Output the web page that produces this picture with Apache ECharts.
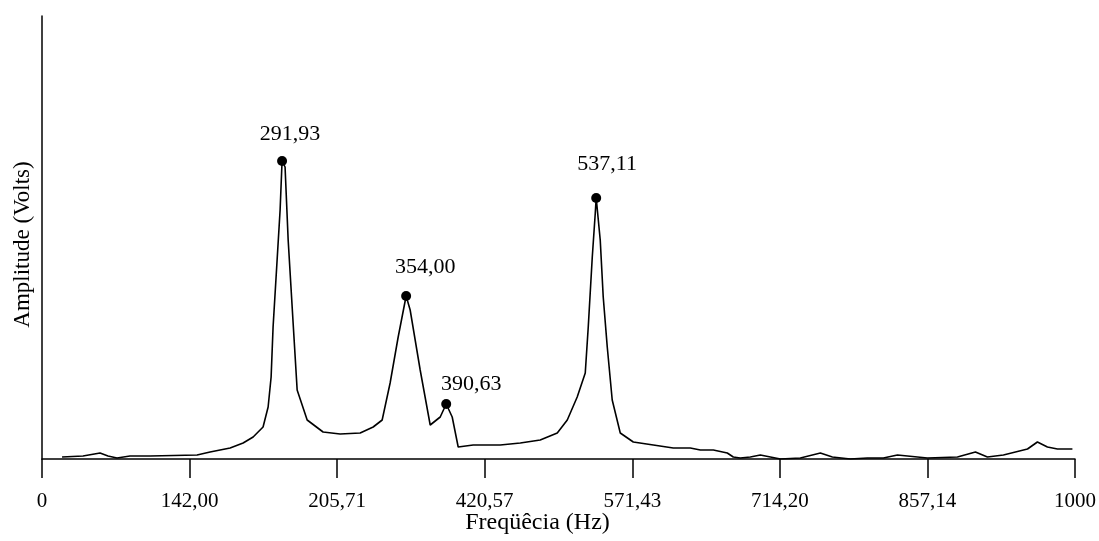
<!DOCTYPE html>
<html>
<head>
<meta charset="utf-8">
<script src="https://cdn.jsdelivr.net/npm/echarts@6/dist/echarts.min.js"></script>
<style>html,body{margin:0;padding:0;background:#fff}#c{width:1099px;height:541px}</style>
</head>
<body>
<div id="c"></div>
<script>
// x tick labels as printed on the chart
var tickLabels = ['0', '142,00', '205,71', '420,57', '571,43', '714,20', '857,14', '1000'];
// spectrum trace: x (axis units 0..1000), amplitude (arbitrary units)
var freqX = [19.4, 39.7, 56.2, 63.9, 72.6, 85.2, 104.6, 150.1, 162.7, 182.1, 194.7, 204.4, 214.0, 218.9, 221.8, 223.7, 227.6, 230.5, 232.4, 235.3, 238.3, 243.1, 247.0, 256.7, 272.1, 288.6, 308.0, 320.6, 329.3, 337.0, 344.8, 352.5, 356.4, 366.1, 375.8, 385.5, 391.3, 397.1, 402.9, 417.4, 443.6, 463.0, 482.3, 498.8, 508.5, 518.1, 525.9, 528.8, 532.7, 535.6, 536.5, 540.4, 543.3, 547.2, 552.0, 559.8, 572.4, 591.8, 611.1, 627.6, 637.3, 649.9, 663.4, 669.2, 676.0, 685.7, 695.4, 705.1, 714.8, 734.1, 753.5, 765.1, 782.5, 799.0, 814.5, 828.1, 837.8, 857.1, 886.2, 903.6, 915.2, 930.7, 954.0, 963.6, 973.3, 983.0, 997.5];
var amplitude = [2, 3, 6, 3, 1, 3, 3, 4, 7, 11, 16, 22, 32, 52, 82, 132, 199, 249, 298, 292, 219, 136, 69, 39, 27, 25, 26, 32, 39, 76, 122, 163, 149, 89, 34, 42, 55, 42, 12, 14, 14, 16, 19, 26, 39, 62, 86, 132, 202, 246, 261, 219, 162, 112, 59, 26, 17, 14, 11, 11, 9, 9, 6, 2, 1, 2, 4, 2, 0, 1, 6, 2, 0, 1, 1, 4, 3, 1, 2, 7, 2, 4, 10, 17, 12, 10, 10];
// marked peaks
var peakX = [232.4, 352.5, 391.3, 536.5];
var peakY = [298, 163, 55, 261];
var peakLabels = ['291,93', '354,00', '390,63', '537,11'];

var FONT = 'Liberation Serif';
var labelOffsets = [[8, -27], [19, -29], [25, -20], [11, -34]];

var lineData = freqX.map(function (x, i) { return [x, amplitude[i]]; });
var peakData = peakX.map(function (x, i) {
  return {
    value: [x, peakY[i]],
    label: {
      show: true, position: 'inside', formatter: peakLabels[i],
      offset: labelOffsets[i], fontFamily: FONT, fontSize: 22, color: '#000', opacity: 1
    }
  };
});

var chart = echarts.init(document.getElementById('c'), null, {renderer: 'canvas'});
var step = 1000 / 7;
chart.setOption({
  animation: false,
  backgroundColor: '#fff',
  grid: {left: 42, right: 24, top: 16, bottom: 82, containLabel: false, outerBoundsMode: 'none'},
  xAxis: {
    type: 'value', min: 0, max: 1000, interval: step,
    name: 'Freqüêcia (Hz)', nameLocation: 'middle', nameGap: 52, nameMoveOverlap: false,
    nameTextStyle: {fontFamily: FONT, fontSize: 24, color: '#000', padding: [0, 42, 0, 0]},
    axisLine: {show: true, lineStyle: {color: '#000', width: 1.5}},
    axisTick: {show: true, length: 19, lineStyle: {color: '#000', width: 1.5}},
    axisLabel: {
      margin: 32, fontFamily: FONT, fontSize: 21, color: '#000',
      showMinLabel: true, showMaxLabel: true,
      formatter: function (v) { return tickLabels[Math.round(v / step)] || ''; }
    },
    splitLine: {show: false}
  },
  yAxis: {
    type: 'value', min: 0, max: 443,
    name: 'Amplitude (Volts)', nameLocation: 'middle', nameGap: 8, nameRotate: 90, nameMoveOverlap: false,
    nameTextStyle: {fontFamily: FONT, fontSize: 23, color: '#000', padding: [0, 14, 0, 0]},
    axisLine: {show: true, lineStyle: {color: '#000', width: 1.5}},
    axisTick: {show: false}, axisLabel: {show: false}, splitLine: {show: false}
  },
  series: [
    {
      type: 'line', data: lineData, showSymbol: false, smooth: false,
      lineStyle: {color: '#000', width: 1.6}, z: 2
    },
    {
      type: 'scatter', data: peakData, symbol: 'circle', symbolSize: 10,
      itemStyle: {color: '#000', opacity: 1}, z: 3
    }
  ]
});
</script>
</body>
</html>
